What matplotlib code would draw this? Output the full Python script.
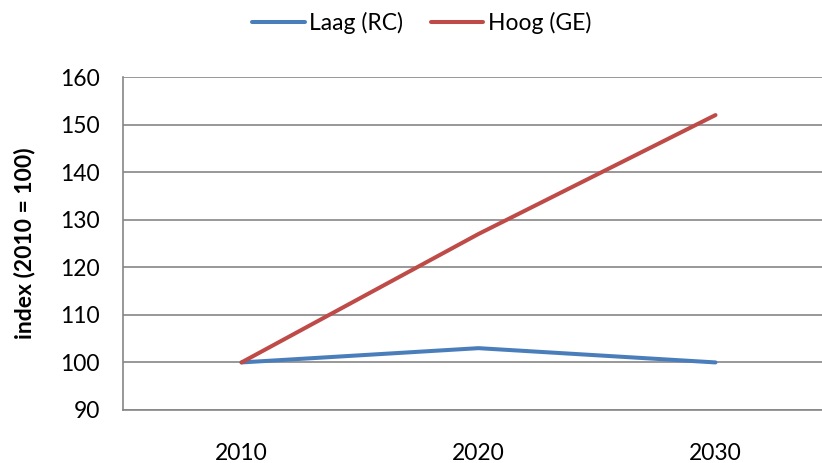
import matplotlib
matplotlib.use('Agg')
from matplotlib import pyplot as plt

years = ['2010', '2020', '2030']
laag = [100, 103, 100]
hoog = [100, 127, 152]

plt.rcParams['font.family'] = ['Lato', 'DejaVu Sans']

fig = plt.figure(figsize=(8.22, 4.63), dpi=100)
ax = fig.add_axes([123 / 822, 1 - 410 / 463, 711 / 822, 333 / 463])

x = list(range(len(years)))
ax.plot(x, laag, color='#4A7EBB', lw=2.9, label='Laag (RC)', solid_capstyle='round')
ax.plot(x, hoog, color='#BE4B48', lw=2.9, label='Hoog (GE)', solid_capstyle='round')

ax.set_xlim(-0.5, 2.5)
ax.set_ylim(90, 160)
ax.set_yticks(range(90, 161, 10))
ax.set_xticks(x)
ax.set_xticklabels(years)
ax.grid(axis='y', color='#868686', lw=1.2)
ax.set_axisbelow(True)
for s in ['top', 'right']:
    ax.spines[s].set_visible(False)
for s in ['left', 'bottom']:
    ax.spines[s].set_color('#868686')
    ax.spines[s].set_linewidth(1.2)
ax.tick_params(axis='both', length=0, labelsize=16.5)
ax.tick_params(axis='y', pad=16.5)
ax.tick_params(axis='x', pad=24)
ax.set_ylabel('index (2010 = 100)', fontsize=16.5, fontweight='bold', labelpad=18)

fig.legend(loc='center', bbox_to_anchor=(0.513, 1 - 23 / 463), ncol=2, frameon=False,
           fontsize=16.5, handlelength=2.3, handletextpad=0.2, columnspacing=1.2)

plt.savefig('out.png', dpi=100)
